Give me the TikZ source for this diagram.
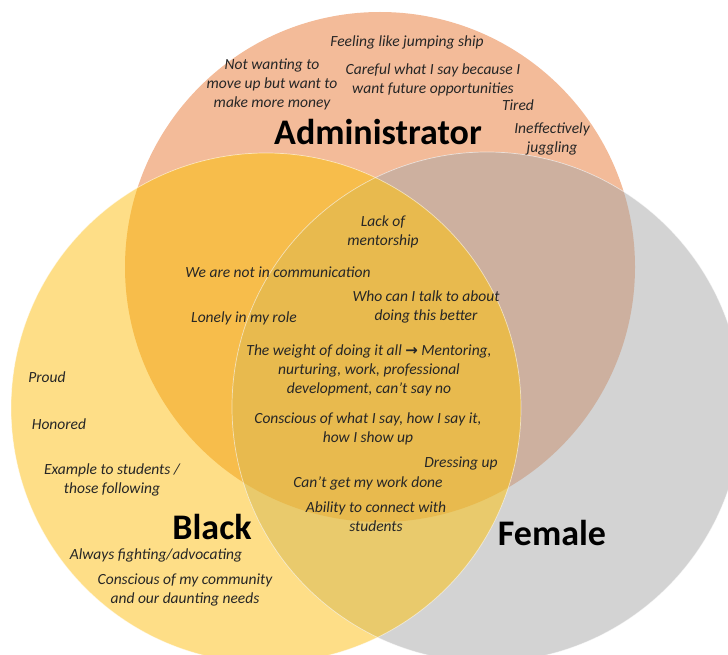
\documentclass[tikz,border=0pt]{standalone}
\usepackage{fontspec}
\setmainfont{Carlito}
\newfontfamily\arrowfont{DejaVu Sans}
\definecolor{Aonly}{HTML}{F3BB99}
\definecolor{Bonly}{HTML}{FEDE87}
\definecolor{Fonly}{HTML}{D3D3D3}
\definecolor{ABcol}{HTML}{F7BD4B}
\definecolor{AFcol}{HTML}{CDB09F}
\definecolor{BFcol}{HTML}{E9CA6C}
\definecolor{ABFcol}{HTML}{E8BA4E}
\definecolor{txtcol}{HTML}{262626}
\tikzset{
  txt/.style={font=\itshape\fontsize{15.5}{19}\selectfont, align=center, text=txtcol, inner sep=0pt},
  title/.style={font=\bfseries\fontsize{36}{40}\selectfont, text=black, inner sep=0pt},
  rim/.style={draw=white, draw opacity=0.55, line width=0.7pt}
}
\begin{document}
\begin{tikzpicture}[x=1pt,y=-1pt]
\useasboundingbox (0,0) rectangle (728,655);
\clip (0,0) rectangle (728,655);
\coordinate (A) at (380,267);
\coordinate (B) at (266,408);
\coordinate (F) at (487,407);
\def\rr{255pt}
% single regions
\fill[Aonly] (A) circle (\rr);
\fill[Bonly] (B) circle (\rr);
\fill[Fonly] (F) circle (\rr);
% pairwise
\begin{scope}\clip (A) circle (\rr); \fill[ABcol] (B) circle (\rr);\end{scope}
\begin{scope}\clip (A) circle (\rr); \fill[AFcol] (F) circle (\rr);\end{scope}
\begin{scope}\clip (B) circle (\rr); \fill[BFcol] (F) circle (\rr);\end{scope}
% triple
\begin{scope}\clip (A) circle (\rr); \clip (B) circle (\rr); \fill[ABFcol] (F) circle (\rr);\end{scope}
% rims
\draw[rim] (B) circle (\rr);
\draw[rim] (F) circle (\rr);

% titles
\node[title] (tA) at (378,132) {Administrator};
\node[title] (tB) at (212,527) {Black};
\node[title] (tF) at (552,533) {Female};

% administrator texts
\node[txt] (a1) at (407,42) {Feeling like jumping ship};
\node[txt] (a2) at (272,84) {Not wanting to\\move up but want to\\make more money};
\node[txt] (a3) at (433,80) {Careful what I say because I\\want future opportunities};
\node[txt] (a4) at (518,105) {Tired};
\node[txt] (a5) at (552,139) {Ineffectively\\juggling};

% center texts
\node[txt] (c1) at (383,232) {Lack of\\mentorship};
\node[txt] (c2) at (278,272) {We are not in communication};
\node[txt] (c3) at (426,307) {Who can I talk to about\\doing this better};
\node[txt] (c4) at (244,318) {Lonely in my role};
\node[txt] (c5) at (369,370) {The weight of doing it all {\arrowfont\upshape\bfseries\fontsize{15}{19}\selectfont →} Mentoring,\\nurturing, work, professional\\development, can’t say no};
\node[txt] (c6) at (368,429) {Conscious of what I say, how I say it,\\how I show up};
\node[txt] (c7) at (461,463) {Dressing up};
\node[txt] (c8) at (368,483) {Can’t get my work done};
\node[txt] (c9) at (376,517) {Ability to connect with\\students};

% black texts
\node[txt] (b1) at (47,377) {Proud};
\node[txt] (b2) at (59,424) {Honored};
\node[txt] (b3) at (112,480) {Example to students /\\those following};
\node[txt] (b4) at (156,555) {Always fighting/advocating};
\node[txt] (b5) at (185,590) {Conscious of my community\\and our daunting needs};
\end{tikzpicture}
\end{document}
